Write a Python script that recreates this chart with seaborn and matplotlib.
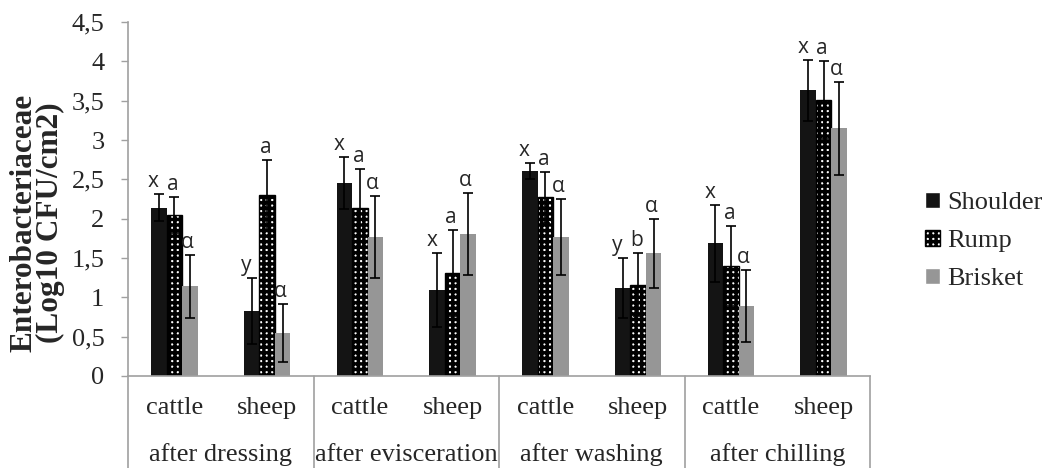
import matplotlib
matplotlib.use("Agg")
import matplotlib.pyplot as plt
import matplotlib.transforms as mtransforms
from matplotlib.patches import Patch
from matplotlib.ticker import FuncFormatter, MultipleLocator
import pandas as pd
import seaborn as sns

# Enterobacteriaceae counts per carcass site, processing stage and species
stages = ["after dressing", "after evisceration", "after washing", "after chilling"]
species = ["cattle", "sheep"]
parts = ["Shoulder", "Rump", "Brisket"]

shoulder_mean = [2.14, 0.83, 2.45, 1.09, 2.61, 1.12, 1.69, 3.63]
shoulder_err = [0.17, 0.42, 0.33, 0.47, 0.10, 0.38, 0.49, 0.39]
rump_mean = [2.05, 2.30, 2.13, 1.31, 2.27, 1.16, 1.40, 3.51]
rump_err = [0.23, 0.45, 0.50, 0.55, 0.32, 0.40, 0.51, 0.50]
brisket_mean = [1.14, 0.55, 1.77, 1.81, 1.77, 1.56, 0.89, 3.15]
brisket_err = [0.40, 0.37, 0.52, 0.52, 0.48, 0.44, 0.46, 0.59]

shoulder_letters = ["x", "y", "x", "x", "x", "y", "x", "x"]
rump_letters = ["a", "a", "a", "a", "a", "b", "a", "a"]
brisket_letters = ["α"] * 8

sns.set_style("white")
plt.rcParams["font.family"] = ["Liberation Serif", "DejaVu Serif"]
plt.rcParams["hatch.color"] = "black"
plt.rcParams["hatch.linewidth"] = 2.5

GRAY = "#a0a0a0"
colors = {"Shoulder": "#141414", "Rump": "white", "Brisket": "#969696"}
RUMP_HATCH = "+++"

groups = [f"{st}|{sp}" for st in stages for sp in species]
means = {"Shoulder": shoulder_mean, "Rump": rump_mean, "Brisket": brisket_mean}
errs = {"Shoulder": shoulder_err, "Rump": rump_err, "Brisket": brisket_err}
letters = {"Shoulder": shoulder_letters, "Rump": rump_letters, "Brisket": brisket_letters}
letter_dx = {"Shoulder": -4, "Rump": -1, "Brisket": -2}

rows = []
for p in parts:
    for g, v in zip(groups, means[p]):
        rows.append({"group": g, "part": p, "value": v})
df = pd.DataFrame(rows)

fig = plt.figure(figsize=(10.46, 4.68), dpi=100)
ax = fig.add_axes([128 / 1046, 1 - 376 / 468, 742 / 1046, 354 / 468])

sns.barplot(data=df, x="group", y="value", hue="part", order=groups,
            hue_order=parts, palette=colors, width=0.5, saturation=1,
            errorbar=None, legend=False, linewidth=0, ax=ax)

# patterned rump bars
for bar in ax.containers[1]:
    bar.set_hatch(RUMP_HATCH)
    bar.set_edgecolor("black")
    bar.set_linewidth(1.0)

# error bars and significance letters
for k, p in enumerate(parts):
    cont = ax.containers[k]
    xs = [b.get_x() + b.get_width() / 2 for b in cont]
    tops = [b.get_height() for b in cont]
    ax.errorbar(xs, tops, yerr=errs[p], fmt="none", ecolor="black",
                elinewidth=1.2, capsize=3.4, capthick=1.2, zorder=5)
    for x, t, e, lab in zip(xs, tops, errs[p], letters[p]):
        ax.annotate(lab, (x, t + e), xytext=(letter_dx[p], 5),
                    textcoords="offset points", ha="center", va="baseline",
                    fontsize=15, family=["Open Sans", "DejaVu Sans"])

ax.set_xlim(-0.5, 7.5)
ax.set_ylim(0, 4.5)
ax.yaxis.set_major_locator(MultipleLocator(0.5))
ax.yaxis.set_major_formatter(FuncFormatter(lambda v, _: f"{v:g}".replace(".", ",")))
ax.tick_params(axis="y", direction="out", length=5, width=1, color=GRAY,
               labelsize=19, pad=12, left=True)
ax.tick_params(axis="x", length=0, labelbottom=False)
ax.set_xlabel("")
for s in ["top", "right"]:
    ax.spines[s].set_visible(False)
for s in ["left", "bottom"]:
    ax.spines[s].set_color(GRAY)
    ax.spines[s].set_linewidth(1.2)

ax.set_ylabel("Enterobacteriaceae\n(Log10 CFU/cm2)", fontsize=22.5,
              fontweight="bold", linespacing=0.9)
ax.yaxis.label.set_va("center")
ax.yaxis.set_label_coords(-0.122, 0.432)

# two-level category axis
trans = mtransforms.blended_transform_factory(ax.transData, ax.transAxes)
for xb in [-0.5, 1.5, 3.5, 5.5, 7.5]:
    ax.plot([xb, xb], [0, -0.27], transform=trans, color=GRAY, lw=1.2,
            clip_on=False)
for i, g in enumerate(groups):
    ax.text(i, -0.09, g.split("|")[1], transform=trans, ha="center",
            va="center", fontsize=19)
for j, st in enumerate(stages):
    ax.text(2 * j + 0.5, -0.223, st, transform=trans, ha="center",
            va="center", fontsize=19)

handles = [Patch(facecolor=colors["Shoulder"]),
           Patch(facecolor="white", edgecolor="black", hatch=RUMP_HATCH, linewidth=1.0),
           Patch(facecolor=colors["Brisket"])]
fig.legend(handles, parts, loc="center left",
           bbox_to_anchor=(925 / 1046, 1 - 241 / 468), frameon=False,
           fontsize=19, handlelength=0.55, handleheight=0.55,
           handletextpad=0.3, labelspacing=0.6, borderpad=0,
           borderaxespad=0)

fig.savefig("out.png", dpi=100)
